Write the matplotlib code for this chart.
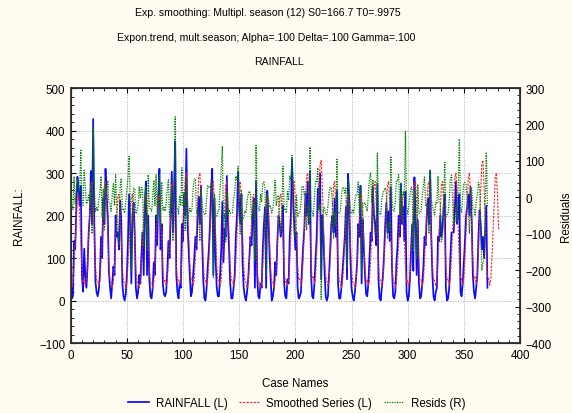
import matplotlib
matplotlib.use('Agg')
import matplotlib.pyplot as plt
from matplotlib.ticker import MultipleLocator
import numpy as np

plt.rcParams['font.family'] = ['Liberation Sans', 'DejaVu Sans']

bg_cream = '#FFFBF0'

# monthly rainfall (cases 0..371), one row per year
rainfall = [
    60, 5, 10, 140, 120, 220, 291, 263, 223, 270, 59, 21,
    122, 60, 30, 80, 160, 200, 305, 180, 427, 185, 45, 20,
    10, 25, 60, 150, 100, 240, 180, 310, 247, 200, 68, 30,
    5, 40, 80, 60, 200, 150, 160, 120, 235, 190, 40, 10,
    0, 15, 60, 140, 250, 180, 40, 200, 230, 160, 30, 5,
    20, 60, 40, 110, 160, 60, 235, 280, 60, 200, 50, 10,
    5, 30, 90, 60, 200, 130, 250, 310, 120, 180, 40, 15,
    10, 20, 70, 140, 100, 200, 303, 160, 250, 375, 60, 20,
    5, 40, 30, 180, 140, 250, 200, 357, 180, 120, 60, 10,
    20, 60, 100, 150, 120, 200, 244, 180, 270, 140, 50, 5,
    0, 30, 80, 120, 180, 260, 310, 60, 240, 100, 30, 10,
    10, 60, 120, 232, 90, 170, 150, 293, 180, 120, 40, 5,
    5, 30, 60, 150, 200, 303, 220, 180, 250, 90, 30, 10,
    0, 20, 50, 100, 150, 130, 200, 240, 30, 280, 60, 10,
    5, 40, 30, 120, 180, 220, 30, 258, 200, 110, 50, 0,
    10, 30, 90, 60, 140, 200, 180, 150, 170, 223, 40, 10,
    5, 50, 40, 150, 200, 333, 250, 180, 120, 160, 30, 5,
    10, 20, 80, 130, 170, 250, 200, 280, 180, 303, 60, 10,
    5, 40, 100, 150, 263, 220, 300, 50, 200, 150, 70, 10,
    0, 10, 60, 120, 180, 200, 160, 240, 150, 258, 40, 5,
    5, 30, 70, 110, 150, 220, 50, 298, 230, 100, 30, 10,
    0, 20, 50, 90, 180, 150, 270, 40, 190, 120, 60, 15,
    10, 40, 100, 160, 140, 267, 200, 180, 130, 275, 50, 5,
    0, 30, 60, 110, 180, 230, 160, 210, 140, 267, 80, 10,
    5, 20, 90, 130, 200, 150, 275, 180, 220, 140, 256, 20,
    0, 10, 50, 120, 180, 70, 290, 200, 60, 190, 40, 5,
    10, 40, 80, 150, 130, 200, 240, 180, 305, 150, 60, 10,
    0, 20, 30, 150, 140, 200, 150, 170, 220, 250, 30, 0,
    5, 30, 100, 160, 160, 160, 220, 280, 180, 200, 250, 20,
    10, 40, 90, 140, 200, 220, 250, 200, 267, 190, 60, 20,
    5, 30, 60, 150, 212, 180, 120, 150, 100, 160, 223, 30,
]

# smoothed series (cases 0..381, includes forecast past the data)
smoothed = [
    43, 30, 43, 83, 138, 195, 243, 250, 205, 138, 75, 43,
    48, 34, 48, 92, 154, 218, 272, 280, 230, 154, 84, 48,
    48, 34, 48, 92, 154, 218, 272, 280, 230, 154, 84, 48,
    43, 30, 43, 83, 138, 195, 243, 250, 205, 138, 75, 43,
    43, 30, 43, 83, 138, 195, 243, 250, 205, 138, 75, 43,
    43, 30, 43, 83, 138, 195, 243, 250, 205, 138, 75, 43,
    43, 30, 43, 83, 138, 195, 243, 250, 205, 138, 75, 43,
    48, 34, 48, 92, 154, 218, 272, 280, 230, 154, 84, 48,
    51, 36, 51, 99, 165, 234, 291, 300, 246, 165, 90, 51,
    51, 36, 51, 99, 165, 234, 291, 300, 246, 165, 90, 51,
    48, 34, 48, 92, 154, 218, 272, 280, 230, 154, 84, 48,
    48, 34, 48, 92, 154, 218, 272, 280, 230, 154, 84, 48,
    48, 34, 48, 92, 154, 218, 272, 280, 230, 154, 84, 48,
    43, 30, 43, 83, 138, 195, 243, 250, 205, 138, 75, 43,
    43, 30, 43, 83, 138, 195, 243, 250, 205, 138, 75, 43,
    43, 30, 43, 83, 138, 195, 243, 250, 205, 138, 75, 43,
    48, 34, 48, 92, 154, 218, 272, 280, 230, 154, 84, 48,
    51, 36, 51, 99, 165, 234, 291, 300, 246, 165, 90, 51,
    56, 40, 56, 109, 182, 257, 320, 330, 271, 182, 99, 56,
    48, 34, 48, 92, 154, 218, 272, 280, 230, 154, 84, 48,
    43, 30, 43, 83, 138, 195, 243, 250, 205, 138, 75, 43,
    43, 30, 43, 83, 138, 195, 243, 250, 205, 138, 75, 43,
    48, 34, 48, 92, 154, 218, 272, 280, 230, 154, 84, 48,
    48, 34, 48, 92, 154, 218, 272, 280, 230, 154, 84, 48,
    43, 30, 43, 83, 138, 195, 243, 250, 205, 138, 75, 43,
    48, 34, 48, 92, 154, 218, 272, 280, 230, 154, 84, 48,
    48, 34, 48, 92, 154, 218, 272, 280, 230, 154, 84, 48,
    48, 34, 48, 92, 154, 218, 272, 280, 230, 154, 84, 48,
    51, 36, 51, 99, 165, 234, 291, 300, 246, 165, 90, 51,
    51, 36, 51, 99, 165, 234, 291, 300, 246, 165, 90, 51,
    56, 40, 56, 109, 182, 257, 320, 330, 271, 182, 99, 56,
    51, 36, 51, 99, 165, 234, 291, 300, 246, 165,
]

# residuals (right axis), cases 0..371
resids = [
    17, -25, -33, 57, -18, 25, 48, 13, 18, 132, -16, -22,
    74, 26, -18, -12, 6, -18, 33, -100, 197, 31, -39, -28,
    -38, -9, 12, 58, -54, 22, -92, 30, 17, 46, -16, -18,
    -38, 10, 37, -23, 62, -45, -83, -130, 30, 52, -35, -33,
    -43, -15, 17, 57, 112, -15, -203, -50, 25, 22, -45, -38,
    -23, 30, -3, 27, 22, -135, -8, 30, -145, 62, -25, -33,
    -38, 0, 47, -23, 62, -65, 7, 60, -85, 42, -35, -28,
    -38, -14, 22, 48, -54, -18, 31, -120, 20, 221, -24, -28,
    -46, 4, -21, 81, -25, 16, -91, 57, -66, -45, -30, -41,
    -31, 24, 49, 51, -45, -34, -47, -120, 24, -25, -40, -46,
    -48, -4, 32, 28, 26, 42, 38, -220, 10, -54, -54, -38,
    -38, 26, 72, 140, -64, -48, -122, 13, -50, -34, -44, -43,
    -43, -4, 12, 58, 46, 85, -52, -100, 20, -64, -54, -38,
    -43, -10, 7, 17, 12, -65, -43, -10, -175, 142, -15, -33,
    -38, 10, -13, 37, 42, 25, -213, 8, -5, -28, -25, -43,
    -33, 0, 47, -23, 2, 5, -63, -100, -35, 85, -35, -33,
    -43, 16, -8, 58, 46, 115, -22, -100, -110, 6, -54, -43,
    -41, -16, 29, 31, 5, 16, -91, -20, -66, 138, -30, -41,
    -51, 0, 44, 41, 81, -37, -20, -280, -71, -32, -29, -46,
    -48, -24, 12, 28, 26, -18, -112, -40, -80, 104, -44, -43,
    -38, 0, 27, 27, 12, 25, -193, 48, 25, -38, -45, -33,
    -43, -10, 7, 7, 42, -45, 27, -210, -15, -18, -15, -28,
    -38, 6, 52, 68, -14, 49, -72, -100, -100, 121, -34, -43,
    -48, -4, 12, 18, 26, 12, -112, -70, -90, 113, -4, -38,
    -38, -10, 47, 47, 62, -45, 32, -70, 15, 2, 181, -23,
    -48, -24, 2, 28, 26, -148, 18, -80, -170, 36, -44, -43,
    -38, 6, 32, 58, -24, -18, -32, -100, 75, -4, -24, -38,
    -48, -14, -18, 58, -14, -18, -122, -110, -10, 96, -54, -48,
    -46, -6, 49, 61, -5, -74, -71, -20, -66, 35, 160, -31,
    -41, 4, 39, 41, 35, -14, -41, -100, 21, 25, -30, -31,
    -51, -10, 4, 41, 30, -77, -200, -180, -171, -22, 124, -26,
]

title_lines = ['Exp. smoothing: Multipl. season (12) S0=166.7 T0=.9975',
               'Expon.trend, mult.season; Alpha=.100 Delta=.100 Gamma=.100',
               'RAINFALL']

fig = plt.figure(figsize=(5.72, 4.14), dpi=100, facecolor=bg_cream)
ax = fig.add_axes([0.1236, 0.169, 0.7855, 0.616])
ax2 = ax.twinx()

x_rain = np.arange(len(rainfall))
x_smooth = np.arange(len(smoothed))
x_res = np.arange(len(resids))

ax.plot(x_rain, rainfall, color='#0a0aff', lw=1.25, label='RAINFALL (L)', zorder=2)
ax.plot(x_smooth, smoothed, color='#ff2020', lw=0.8, dashes=(2, 1.2),
        label='Smoothed Series (L)', zorder=3)
ax2.plot(x_res, resids, color='#008000', lw=0.9, dashes=(1, 1),
         label='Resids (R)', zorder=3)

ax.set_xlim(0, 400)
ax.set_ylim(-100, 500)
ax2.set_ylim(-400, 300)
ax.xaxis.set_major_locator(MultipleLocator(50))
ax.xaxis.set_minor_locator(MultipleLocator(10))
ax.yaxis.set_major_locator(MultipleLocator(100))
ax.yaxis.set_minor_locator(MultipleLocator(20))
ax2.yaxis.set_major_locator(MultipleLocator(100))
ax2.yaxis.set_minor_locator(MultipleLocator(20))

ax.grid(True, which='major', color='#b0b0b0', ls=(0, (1, 1.5)), lw=0.7)

fs = 8.3
ax.tick_params(which='both', direction='in', top=True, labelsize=fs, pad=4)
ax.tick_params(which='major', length=3.5, width=0.8)
ax.tick_params(which='minor', length=2, width=0.6)
ax2.tick_params(which='both', direction='in', labelsize=fs, pad=4)
ax2.tick_params(which='major', length=3.5, width=0.8)
ax2.tick_params(which='minor', length=2, width=0.6)

for s in ax2.spines.values():
    s.set_linewidth(1.3)
    s.set_color('#303030')

ax.set_xlabel('Case Names', fontsize=fs, labelpad=12)
ax.set_ylabel('RAINFALL:', fontsize=fs)
ax2.set_ylabel('Residuals', fontsize=fs)
ax.yaxis.set_label_coords(-0.102, 0.5)
ax2.yaxis.set_label_coords(1.089, 0.5)

ys = [0.968, 0.908, 0.850]
xs = [0.468, 0.466, 0.488]
for t, y, x in zip(title_lines, ys, xs):
    fig.text(x, y, t, ha='center', va='center', fontsize=7.6)

h1, l1 = ax.get_legend_handles_labels()
h2, l2 = ax2.get_legend_handles_labels()
fig.legend(h1 + h2, l1 + l2, loc='center', bbox_to_anchor=(0.519, 0.024), ncol=3,
           frameon=False, fontsize=fs, handlelength=1.8, columnspacing=1.0,
           handletextpad=0.6)

fig.savefig('out.png', dpi=100, facecolor=bg_cream)
